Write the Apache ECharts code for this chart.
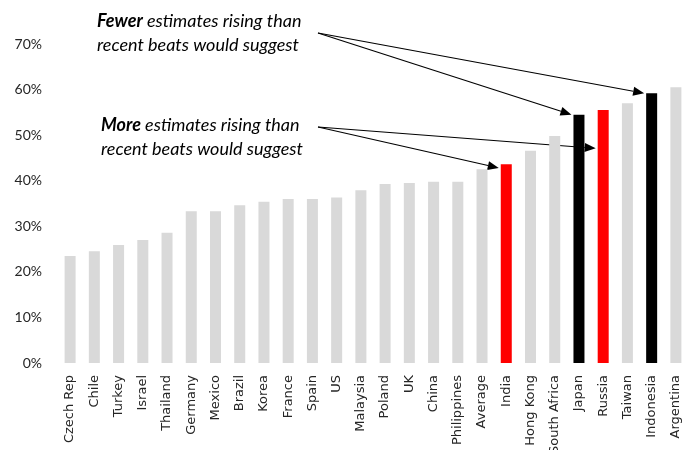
<!DOCTYPE html>
<html>
<head>
<meta charset="utf-8">
<script src="https://cdn.jsdelivr.net/npm/echarts@6/dist/echarts.min.js"></script>
<style>
  html, body { margin: 0; padding: 0; background: #fff; }
  #chart { width: 684px; height: 450px; }
</style>
</head>
<body>
<div id="chart"></div>
<script>
// countries, sorted by share of estimates rising
const countries = ['Czech Rep', 'Chile', 'Turkey', 'Israel', 'Thailand', 'Germany', 'Mexico', 'Brazil',
  'Korea', 'France', 'Spain', 'US', 'Malaysia', 'Poland', 'UK', 'China', 'Philippines', 'Average',
  'India', 'Hong Kong', 'South Africa', 'Japan', 'Russia', 'Taiwan', 'Indonesia', 'Argentina'];
const shares = [23.5, 24.5, 25.9, 27.0, 28.6, 33.3, 33.3, 34.6, 35.4, 36.0, 36.0, 36.3, 37.9,
  39.3, 39.5, 39.8, 39.8, 42.5, 43.6, 46.6, 49.8, 54.5, 55.5, 57.0, 59.2, 60.5];
const redBars = ['India', 'Russia'];
const blackBars = ['Japan', 'Indonesia'];

// arrow targets: [category, value where the arrow hits]
const fewerTargets = [['Japan', 54.5], ['Indonesia', 59.2]];
const moreTargets = [['India', 42.8], ['Russia', 47.1]];

const BAR_W = 11;

function barColor(name) {
  if (redBars.includes(name)) return '#ff0000';
  if (blackBars.includes(name)) return '#000000';
  return '#d9d9d9';
}

const chart = echarts.init(document.getElementById('chart'));

chart.setOption({
  animation: false,
  grid: { left: 58, top: 44, width: 630, height: 319, outerBoundsMode: 'none', containLabel: false },
  xAxis: {
    type: 'category',
    data: countries,
    axisLine: { show: false },
    axisTick: { show: false },
    axisLabel: {
      rotate: 90, interval: 0, margin: 12,
      fontFamily: 'DejaVu Sans', fontSize: 13, color: '#262626'
    }
  },
  yAxis: {
    type: 'value',
    min: 0, max: 70, interval: 10,
    splitLine: { show: false },
    axisLine: { show: false },
    axisTick: { show: false },
    axisLabel: {
      formatter: '{value}%', margin: 16,
      fontFamily: 'Lato', fontSize: 14, color: '#262626'
    }
  },
  series: [{
    type: 'bar',
    barWidth: BAR_W,
    data: shares.map((v, i) => ({ value: v, itemStyle: { color: barColor(countries[i]) } }))
  }]
});

function arrow(from, to) {
  const dx = to[0] - from[0], dy = to[1] - from[1];
  const len = Math.sqrt(dx * dx + dy * dy);
  const ux = dx / len, uy = dy / len;
  const hl = 11, hw = 4.5;
  const bx = to[0] - ux * hl, by = to[1] - uy * hl;
  return [
    { type: 'line', shape: { x1: from[0], y1: from[1], x2: bx, y2: by },
      style: { stroke: '#000', lineWidth: 1.2 } },
    { type: 'polygon', shape: { points: [to, [bx - uy * hw, by + ux * hw], [bx + uy * hw, by - ux * hw]] },
      style: { fill: '#000' } }
  ];
}

function tip(t) {
  const p = chart.convertToPixel({ seriesIndex: 0 }, [t[0], t[1]]);
  return [p[0] - BAR_W / 2 - 2, p[1]];
}

const textStyle = {
  fontFamily: 'Lato', fontSize: 18, fontStyle: 'italic', fill: '#000', lineHeight: 24,
  rich: { b: { fontFamily: 'Lato', fontSize: 18, fontStyle: 'italic', fontWeight: 'bold', lineHeight: 24 } }
};

const elements = [
  { type: 'text', x: 97, y: 9, style: Object.assign({ text: '{b|Fewer} estimates rising than\nrecent beats would suggest' }, textStyle) },
  { type: 'text', x: 101, y: 113, style: Object.assign({ text: '{b|More} estimates rising than\nrecent beats would suggest' }, textStyle) }
];
fewerTargets.forEach(t => elements.push(...arrow([318, 33], tip(t))));
moreTargets.forEach(t => elements.push(...arrow([318, 127], tip(t))));

chart.setOption({ graphic: { elements } });
</script>
</body>
</html>
